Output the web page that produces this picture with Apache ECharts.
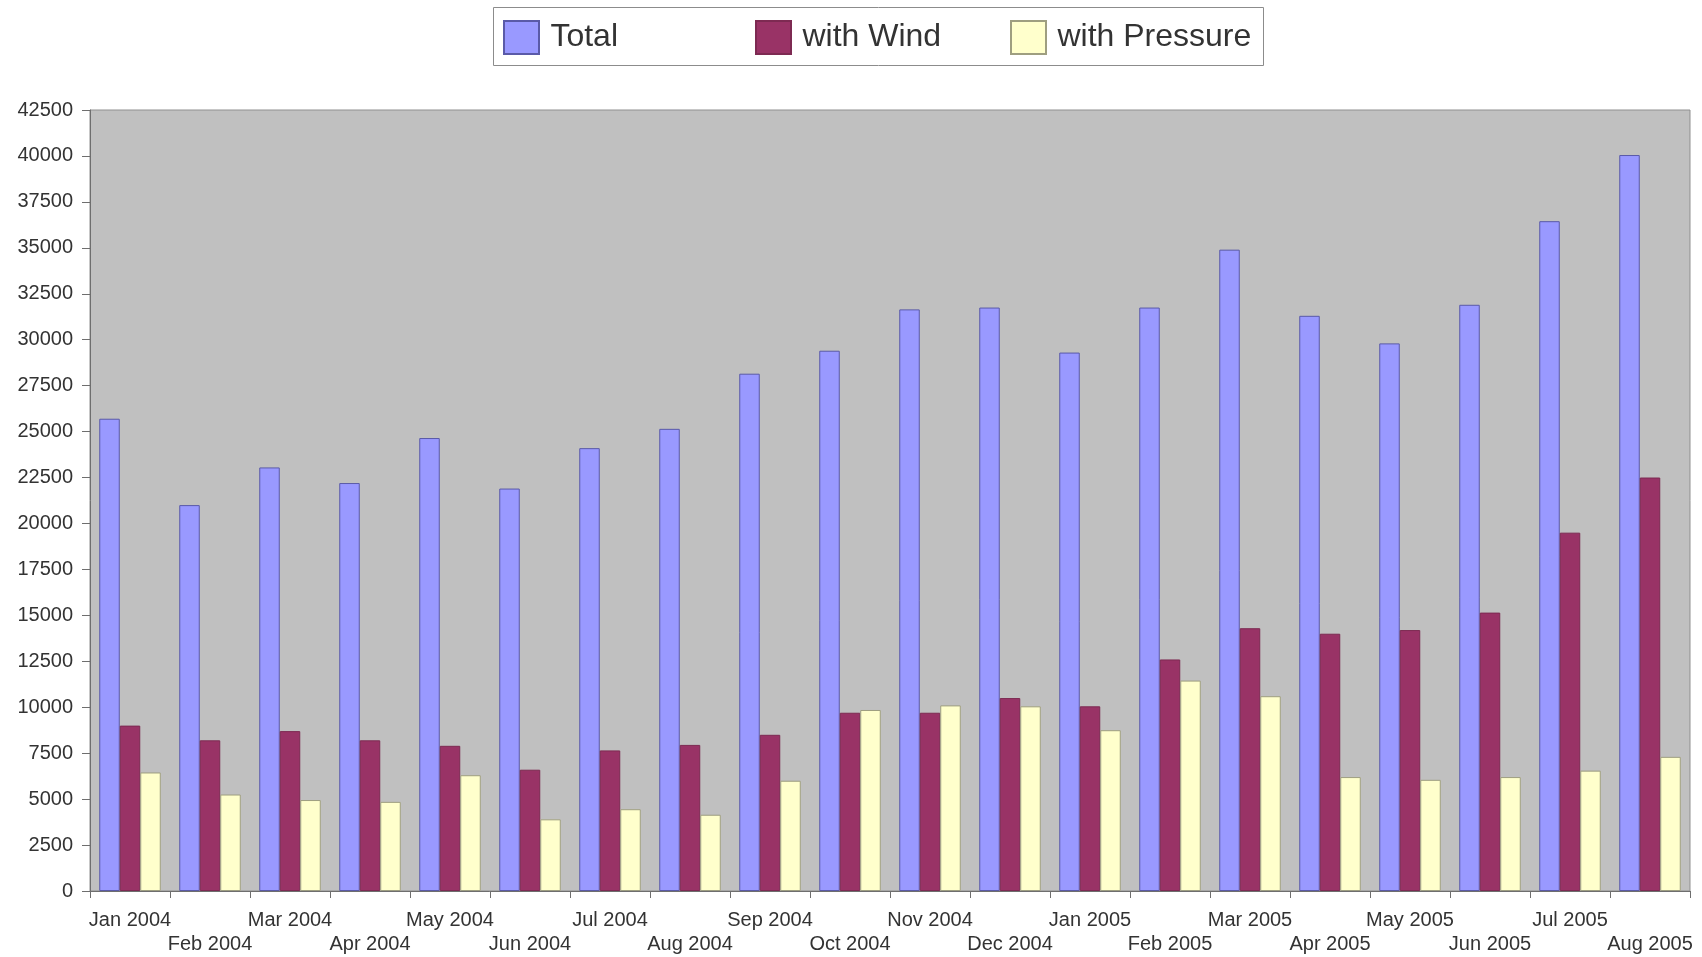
<!DOCTYPE html>
<html>
<head>
<meta charset="utf-8">
<title>Monthly totals</title>
<script src="https://cdn.jsdelivr.net/npm/echarts@6/dist/echarts.min.js"></script>
<style>
  html, body { margin: 0; padding: 0; background: #ffffff; }
  #chart { width: 1702px; height: 957px; }
</style>
</head>
<body>
<div id="chart"></div>
<script>
// Months shown along the category axis
const months = [
  'Jan 2004', 'Feb 2004', 'Mar 2004', 'Apr 2004', 'May 2004', 'Jun 2004',
  'Jul 2004', 'Aug 2004', 'Sep 2004', 'Oct 2004', 'Nov 2004', 'Dec 2004',
  'Jan 2005', 'Feb 2005', 'Mar 2005', 'Apr 2005', 'May 2005', 'Jun 2005',
  'Jul 2005', 'Aug 2005'
];

// Series names, in legend order
const seriesNames = ['Total', 'with Wind', 'with Pressure'];

// Monthly counts per series
const totalCounts = [
  25700, 21000, 23050, 22200, 24650, 21900, 24100, 25150, 28150, 29400,
  31650, 31750, 29300, 31750, 34900, 31300, 29800, 31900, 36450, 40050
];
const windCounts = [
  9000, 8200, 8700, 8200, 7900, 6600, 7650, 7950, 8500, 9700,
  9700, 10500, 10050, 12600, 14300, 14000, 14200, 15150, 19500, 22500
];
const pressureCounts = [
  6450, 5250, 4950, 4850, 6300, 3900, 4450, 4150, 6000, 9850,
  10100, 10050, 8750, 11450, 10600, 6200, 6050, 6200, 6550, 7300
];

// Value axis range and step
const yMin = 0;
const yMax = 42500;
const yStep = 2500;

const chart = echarts.init(document.getElementById('chart'), null, { renderer: 'canvas' });

const fontFamily = 'Liberation Sans, Arial, Helvetica, sans-serif';

// One legend entry per column slot inside the framed key box
const legendLefts = [503, 755, 1010];
const legends = seriesNames.map(function (name, i) {
  return {
    left: legendLefts[i],
    top: 20,
    padding: 0,
    itemWidth: 35,
    itemHeight: 33,
    icon: 'rect',
    data: [name],
    formatter: function (n) { return '\u2009' + n; },
    textStyle: {
      fontFamily: fontFamily,
      fontSize: 32,
      color: '#333333'
    }
  };
});

const option = {
  backgroundColor: '#ffffff',
  animation: false,
  graphic: [
    {
      type: 'rect',
      left: 493,
      top: 7,
      z: -1,
      shape: { width: 770, height: 58 },
      style: { fill: '#ffffff', stroke: '#8c8c8c', lineWidth: 1 }
    }
  ],
  legend: legends,
  grid: {
    left: 90,
    right: 12,
    top: 110,
    bottom: 66,
    show: true,
    backgroundColor: '#c0c0c0',
    borderColor: '#8f8f8f',
    borderWidth: 1,
    containLabel: false
  },
  xAxis: {
    type: 'category',
    data: months,
    boundaryGap: true,
    axisLine: { show: true, lineStyle: { color: '#6e6e6e', width: 1 } },
    axisTick: {
      show: true,
      interval: 0,
      alignWithLabel: false,
      length: 7,
      lineStyle: { color: '#6e6e6e' }
    },
    axisLabel: {
      interval: 0,
      hideOverlap: false,
      margin: 17,
      fontFamily: fontFamily,
      fontSize: 20,
      lineHeight: 24,
      color: '#333333',
      formatter: function (value, index) {
        return index % 2 === 1 ? '\n' + value : value;
      }
    },
    splitLine: { show: false }
  },
  yAxis: {
    type: 'value',
    min: yMin,
    max: yMax,
    interval: yStep,
    axisLine: { show: true, lineStyle: { color: '#6e6e6e', width: 1 } },
    axisTick: { show: true, length: 8, lineStyle: { color: '#6e6e6e' } },
    axisLabel: {
      margin: 17,
      fontFamily: fontFamily,
      fontSize: 20,
      color: '#333333',
      formatter: function (value) {
        return String(value);
      }
    },
    splitLine: { show: false }
  },
  series: [
    {
      name: seriesNames[0],
      type: 'bar',
      data: totalCounts,
      barWidth: 20.5,
      barGap: '0%',
      itemStyle: { color: '#9999ff', borderColor: '#5a5aa8', borderWidth: 1 }
    },
    {
      name: seriesNames[1],
      type: 'bar',
      data: windCounts,
      barWidth: 20.5,
      barGap: '0%',
      itemStyle: { color: '#993366', borderColor: '#7d2a52', borderWidth: 1 }
    },
    {
      name: seriesNames[2],
      type: 'bar',
      data: pressureCounts,
      barWidth: 20.5,
      barGap: '0%',
      itemStyle: { color: '#ffffcc', borderColor: '#9e9e80', borderWidth: 1 }
    }
  ]
};

chart.setOption(option);
</script>
</body>
</html>
